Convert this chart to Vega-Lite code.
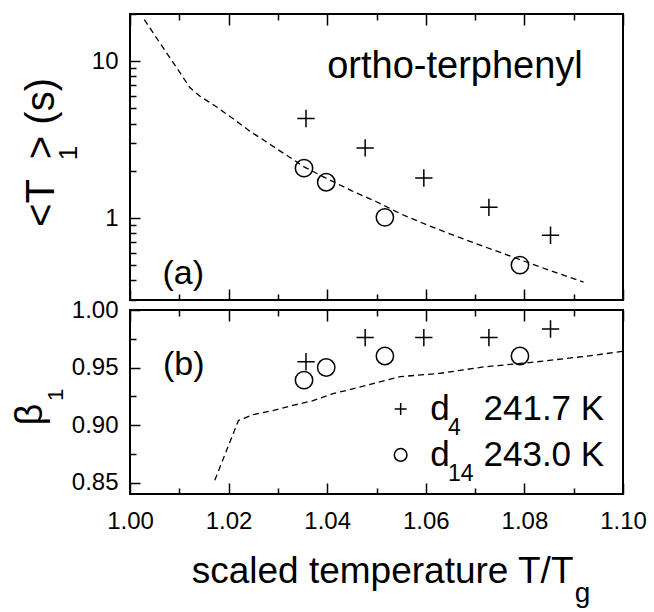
{
  "$schema": "https://vega.github.io/schema/vega-lite/v6.json",
  "padding": {"left": 10, "top": 1, "right": 5, "bottom": 0},
  "config": {
    "font": "Liberation Sans",
    "view": {"stroke": "black", "strokeWidth": 2},
    "axis": {"grid": false, "domain": false, "tickColor": "black", "tickWidth": 1.5, "labelColor": "black", "titleColor": "black", "labelFont": "Liberation Sans", "titleFont": "Liberation Sans", "labelFontSize": 24, "titleFontWeight": "normal", "labelFlush": false, "labelOverlap": false},
    "text": {"font": "Liberation Sans", "color": "black"}
  },
  "datasets": {
    "tau": [
      {"x": 1.0357, "tau": 4.31, "series": "d4"},
      {"x": 1.0477, "tau": 2.80, "series": "d4"},
      {"x": 1.0596, "tau": 1.80, "series": "d4"},
      {"x": 1.0728, "tau": 1.17, "series": "d4"},
      {"x": 1.0853, "tau": 0.776, "series": "d4"},
      {"x": 1.0353, "tau": 2.08, "series": "d14"},
      {"x": 1.0398, "tau": 1.69, "series": "d14"},
      {"x": 1.0517, "tau": 1.01, "series": "d14"},
      {"x": 1.0791, "tau": 0.50, "series": "d14"}
    ],
    "tauFit": [
      {"x": 1.0029, "tau": 18.4},
      {"x": 1.0122, "tau": 6.76},
      {"x": 1.0142, "tau": 5.98},
      {"x": 1.0176, "tau": 5.10},
      {"x": 1.0210, "tau": 4.28},
      {"x": 1.0243, "tau": 3.58},
      {"x": 1.0277, "tau": 3.05},
      {"x": 1.0304, "tau": 2.68},
      {"x": 1.0331, "tau": 2.36},
      {"x": 1.0353, "tau": 2.12},
      {"x": 1.0400, "tau": 1.78},
      {"x": 1.0450, "tau": 1.49},
      {"x": 1.0500, "tau": 1.27},
      {"x": 1.0550, "tau": 1.06},
      {"x": 1.0600, "tau": 0.91},
      {"x": 1.0650, "tau": 0.79},
      {"x": 1.0700, "tau": 0.69},
      {"x": 1.0750, "tau": 0.605},
      {"x": 1.0800, "tau": 0.53},
      {"x": 1.0850, "tau": 0.465},
      {"x": 1.0920, "tau": 0.39}
    ],
    "beta": [
      {"x": 1.0357, "beta": 0.955, "series": "d4"},
      {"x": 1.0477, "beta": 0.976, "series": "d4"},
      {"x": 1.0596, "beta": 0.976, "series": "d4"},
      {"x": 1.0728, "beta": 0.976, "series": "d4"},
      {"x": 1.0853, "beta": 0.9835, "series": "d4"},
      {"x": 1.0353, "beta": 0.939, "series": "d14"},
      {"x": 1.0398, "beta": 0.950, "series": "d14"},
      {"x": 1.0517, "beta": 0.960, "series": "d14"},
      {"x": 1.0791, "beta": 0.960, "series": "d14"}
    ],
    "betaFit": [
      {"x": 1.0172, "beta": 0.852},
      {"x": 1.0220, "beta": 0.904},
      {"x": 1.0250, "beta": 0.909},
      {"x": 1.0290, "beta": 0.9125},
      {"x": 1.0330, "beta": 0.917},
      {"x": 1.0370, "beta": 0.921},
      {"x": 1.0410, "beta": 0.927},
      {"x": 1.0480, "beta": 0.9345},
      {"x": 1.0548, "beta": 0.942},
      {"x": 1.0630, "beta": 0.945},
      {"x": 1.0717, "beta": 0.9505},
      {"x": 1.0818, "beta": 0.9546},
      {"x": 1.0919, "beta": 0.9595},
      {"x": 1.1000, "beta": 0.964}
    ]
  },
  "bounds": "flush",
  "spacing": 10,
  "vconcat": [
    {
      "width": 493,
      "height": 286,
      "layer": [
        {
          "data": {"name": "tauFit"},
          "mark": {"type": "line", "color": "black", "strokeWidth": 1.3, "strokeDash": [6, 4]},
          "encoding": {
            "x": {"field": "x", "type": "quantitative", "scale": {"domain": [1.0, 1.1], "nice": false, "zero": false},
              "axis": {"orient": "bottom", "values": [1.0, 1.01, 1.02, 1.03, 1.04, 1.05, 1.06, 1.07, 1.08, 1.09, 1.1], "labels": false, "title": null,
                "tickSize": {"condition": {"test": "round(datum.value*100)%2===0", "value": -11}, "value": -6}}},
            "y": {"field": "tau", "type": "quantitative", "scale": {"type": "log", "domain": [0.3, 20], "nice": false},
              "axis": {"orient": "left", "values": [0.3, 0.4, 0.5, 0.6, 0.7, 0.8, 0.9, 1, 2, 3, 4, 5, 6, 7, 8, 9, 10, 20],
                "labelExpr": "datum.value===1 || datum.value===10 ? format(datum.value,'d') : ''",
                "tickSize": {"condition": {"test": "datum.value===1 || datum.value===10", "value": -10}, "value": -6},
                "labelPadding": 22,
                "title": "<T\u2002> (s)", "titleFontSize": 40, "titleAngle": 270, "titleX": -77, "titleY": 138, "titleAlign": "center", "titleBaseline": "alphabetic"}}
          }
        },
        {
          "data": {"name": "tau"},
          "mark": {"type": "point", "filled": false, "color": "black", "opacity": 1, "strokeWidth": 1.5, "size": 300},
          "encoding": {
            "x": {"field": "x", "type": "quantitative",
              "axis": {"orient": "top", "values": [1.0, 1.01, 1.02, 1.03, 1.04, 1.05, 1.06, 1.07, 1.08, 1.09, 1.1], "labels": false, "title": null,
                "tickSize": {"condition": {"test": "round(datum.value*100)%2===0", "value": -11}, "value": -6}}},
            "y": {"field": "tau", "type": "quantitative", "axis": null},
            "shape": {"field": "series", "type": "nominal", "scale": {"domain": ["d4", "d14"], "range": ["M-1,0H1M0,-1V1", "circle"]}, "legend": null}
          }
        },
        {
          "data": {"values": [{}]},
          "mark": {"type": "text", "text": "ortho-terphenyl", "fontSize": 38, "align": "left", "baseline": "alphabetic"},
          "encoding": {"x": {"datum": 1.04, "type": "quantitative", "axis": null}, "y": {"datum": 7.8, "type": "quantitative", "axis": null}}
        },
        {
          "data": {"values": [{}]},
          "mark": {"type": "text", "text": "(a)", "fontSize": 34, "align": "left", "baseline": "alphabetic"},
          "encoding": {"x": {"datum": 1.0066, "type": "quantitative", "axis": null}, "y": {"datum": 0.381, "type": "quantitative", "axis": null}}
        },
        {
          "data": {"values": [{}]},
          "mark": {"type": "text", "text": "1", "fontSize": 26, "align": "center", "baseline": "alphabetic", "angle": 270},
          "encoding": {"x": {"datum": 0.98925, "type": "quantitative", "axis": null}, "y": {"datum": 2.6, "type": "quantitative", "axis": null}}
        }
      ],
      "resolve": {"axis": {"x": "independent", "y": "independent"}}
    },
    {
      "width": 493,
      "height": 184,
      "layer": [
        {
          "data": {"name": "betaFit"},
          "mark": {"type": "line", "color": "black", "strokeWidth": 1.3, "strokeDash": [6, 4]},
          "encoding": {
            "x": {"field": "x", "type": "quantitative", "scale": {"domain": [1.0, 1.1], "nice": false, "zero": false},
              "axis": {"orient": "bottom", "values": [1.0, 1.01, 1.02, 1.03, 1.04, 1.05, 1.06, 1.07, 1.08, 1.09, 1.1],
                "labelExpr": "round(datum.value*100)%2===0 ? format(datum.value,'.2f') : ''",
                "tickSize": {"condition": {"test": "round(datum.value*100)%2===0", "value": -11}, "value": -6},
                "labelPadding": 26,
                "title": "scaled temperature T/T", "titleFontSize": 37, "titleX": 443, "titleY": 88, "titleAlign": "right", "titleBaseline": "alphabetic"}},
            "y": {"field": "beta", "type": "quantitative", "scale": {"domain": [0.84, 1.0], "nice": false, "zero": false},
              "axis": {"orient": "left", "values": [0.85, 0.875, 0.9, 0.925, 0.95, 0.975, 1.0],
                "labelExpr": "abs(datum.value*20 - round(datum.value*20)) < 0.001 ? format(datum.value,'.2f') : ''",
                "tickSize": {"condition": {"test": "abs(datum.value*20 - round(datum.value*20)) < 0.001", "value": -10}, "value": -6},
                "labelPadding": 22,
                "title": "β", "titleFontSize": 38, "titleAngle": 270, "titleX": -89, "titleY": 104, "titleAlign": "center", "titleBaseline": "alphabetic"}}
          }
        },
        {
          "data": {"name": "beta"},
          "mark": {"type": "point", "filled": false, "color": "black", "opacity": 1, "strokeWidth": 1.5, "size": 300},
          "encoding": {
            "x": {"field": "x", "type": "quantitative",
              "axis": {"orient": "top", "values": [1.0, 1.01, 1.02, 1.03, 1.04, 1.05, 1.06, 1.07, 1.08, 1.09, 1.1], "labels": false, "title": null,
                "tickSize": {"condition": {"test": "round(datum.value*100)%2===0", "value": -11}, "value": -6}}},
            "y": {"field": "beta", "type": "quantitative", "axis": null},
            "shape": {"field": "series", "type": "nominal", "scale": {"domain": ["d4", "d14"], "range": ["M-1,0H1M0,-1V1", "circle"]}, "legend": null}
          }
        },
        {
          "data": {"values": [{}]},
          "mark": {"type": "point", "shape": "M-1,0H1M0,-1V1", "filled": false, "color": "black", "opacity": 1, "strokeWidth": 1.5, "size": 144},
          "encoding": {"x": {"datum": 1.0549, "type": "quantitative", "axis": null}, "y": {"datum": 0.914, "type": "quantitative", "axis": null}}
        },
        {
          "data": {"values": [{}]},
          "mark": {"type": "point", "shape": "circle", "filled": false, "color": "black", "opacity": 1, "strokeWidth": 1.5, "size": 160},
          "encoding": {"x": {"datum": 1.0549, "type": "quantitative", "axis": null}, "y": {"datum": 0.874, "type": "quantitative", "axis": null}}
        },
        {
          "data": {"values": [{}]},
          "mark": {"type": "text", "text": "d", "fontSize": 35, "align": "left", "baseline": "alphabetic"},
          "encoding": {"x": {"datum": 1.0609, "type": "quantitative", "axis": null}, "y": {"datum": 0.9044, "type": "quantitative", "axis": null}}
        },
        {
          "data": {"values": [{}]},
          "mark": {"type": "text", "text": "4", "fontSize": 23, "align": "left", "baseline": "alphabetic"},
          "encoding": {"x": {"datum": 1.0645, "type": "quantitative", "axis": null}, "y": {"datum": 0.8914, "type": "quantitative", "axis": null}}
        },
        {
          "data": {"values": [{}]},
          "mark": {"type": "text", "text": "241.7 K", "fontSize": 35, "align": "left", "baseline": "alphabetic"},
          "encoding": {"x": {"datum": 1.0717, "type": "quantitative", "axis": null}, "y": {"datum": 0.9044, "type": "quantitative", "axis": null}}
        },
        {
          "data": {"values": [{}]},
          "mark": {"type": "text", "text": "d", "fontSize": 35, "align": "left", "baseline": "alphabetic"},
          "encoding": {"x": {"datum": 1.0609, "type": "quantitative", "axis": null}, "y": {"datum": 0.864, "type": "quantitative", "axis": null}}
        },
        {
          "data": {"values": [{}]},
          "mark": {"type": "text", "text": "14", "fontSize": 23, "align": "left", "baseline": "alphabetic"},
          "encoding": {"x": {"datum": 1.0645, "type": "quantitative", "axis": null}, "y": {"datum": 0.8509, "type": "quantitative", "axis": null}}
        },
        {
          "data": {"values": [{}]},
          "mark": {"type": "text", "text": "243.0 K", "fontSize": 35, "align": "left", "baseline": "alphabetic"},
          "encoding": {"x": {"datum": 1.0717, "type": "quantitative", "axis": null}, "y": {"datum": 0.864, "type": "quantitative", "axis": null}}
        },
        {
          "data": {"values": [{}]},
          "mark": {"type": "text", "text": "(b)", "fontSize": 34, "align": "left", "baseline": "alphabetic"},
          "encoding": {"x": {"datum": 1.0067, "type": "quantitative", "axis": null}, "y": {"datum": 0.9433, "type": "quantitative", "axis": null}}
        },
        {
          "data": {"values": [{}]},
          "mark": {"type": "text", "text": "1", "fontSize": 22, "align": "center", "baseline": "alphabetic", "angle": 270},
          "encoding": {"x": {"datum": 0.98641, "type": "quantitative", "axis": null}, "y": {"datum": 0.9262, "type": "quantitative", "axis": null}}
        },
        {
          "data": {"values": [{}]},
          "mark": {"type": "text", "text": "g", "fontSize": 28, "align": "center", "baseline": "alphabetic"},
          "encoding": {"x": {"datum": 1.0918, "type": "quantitative", "axis": null}, "y": {"datum": 0.746, "type": "quantitative", "axis": null}}
        }
      ],
      "resolve": {"axis": {"x": "independent", "y": "independent"}}
    }
  ]
}
